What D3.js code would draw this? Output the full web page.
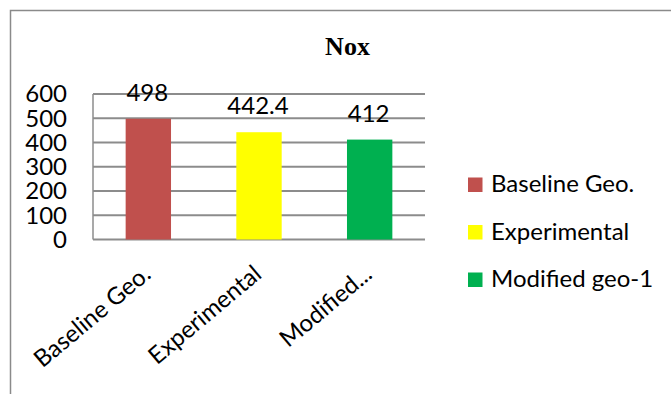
<!DOCTYPE html>
<html><head><meta charset="utf-8">
<script src="https://cdn.jsdelivr.net/npm/d3@7/dist/d3.min.js"></script>
<style>body{margin:0;background:#fff}svg{display:block}</style>
</head><body>
<svg id="chart" width="671" height="394"></svg>
<script>
const title = "Nox";
const categories = ["Baseline Geo.", "Experimental", "Modified geo-1"];
const axisLabels = ["Baseline Geo.", "Experimental", "Modified..."];
const values = [498, 442.4, 412];
const valueLabels = ["498", "442.4", "412"];
const colors = ["#C0504D", "#FFFF00", "#00B050"];
const yTicks = [0, 100, 200, 300, 400, 500, 600];

const svg = d3.select("#chart");
const font = "Lato, 'Open Sans', sans-serif";
const fs = 24;
const grid = "#8c8c8c";

// outer chart border (extends beyond viewport right/bottom)
svg.append("rect").attr("x", 10.5).attr("y", 10.5).attr("width", 700).attr("height", 420)
  .attr("fill", "#fff").attr("stroke", "#8a8a8a").attr("stroke-width", 1.5);

const plotL = 93, plotR = 425, plotT = 94, plotB = 239.5;
const x = d3.scaleBand().domain(categories).range([plotL, plotR]).paddingInner(0.59).paddingOuter(0.295);
const y = d3.scaleLinear().domain([0, 600]).range([plotB, plotT]);

// gridlines
svg.append("g").selectAll("line").data(yTicks).join("line")
  .attr("x1", plotL).attr("x2", plotR)
  .attr("y1", d => y(d)).attr("y2", d => y(d))
  .attr("stroke", grid).attr("stroke-width", 2);
// left axis line
svg.append("line").attr("x1", plotL).attr("x2", plotL).attr("y1", plotT).attr("y2", plotB)
  .attr("stroke", grid).attr("stroke-width", 1.5);

// y tick labels
svg.append("g").selectAll("text").data(yTicks).join("text")
  .attr("x", 67).attr("y", d => y(d)).attr("dy", "0.35em")
  .attr("text-anchor", "end").attr("font-family", font).attr("font-size", fs)
  .attr("fill", "#000").text(d => d);

// bars
svg.append("g").selectAll("rect").data(values).join("rect")
  .attr("x", (d, i) => x(categories[i])).attr("width", x.bandwidth())
  .attr("y", d => y(d)).attr("height", d => y(0) - y(d))
  .attr("fill", (d, i) => colors[i]);

// value labels
svg.append("g").selectAll("text").data(values).join("text")
  .attr("x", (d, i) => x(categories[i]) + x.bandwidth() / 2 - 1)
  .attr("y", d => y(d) - 18)
  .attr("text-anchor", "middle").attr("font-family", font).attr("font-size", fs)
  .attr("fill", "#000").text((d, i) => valueLabels[i]);

// x axis labels, rotated
svg.append("g").selectAll("text").data(axisLabels).join("text")
  .attr("transform", (d, i) => `translate(${x(categories[i]) + x.bandwidth() / 2 + 4},${plotB + 37}) rotate(-40)`)
  .attr("text-anchor", "end").attr("font-family", font).attr("font-size", fs)
  .attr("fill", "#000").text(d => d);

// title
svg.append("text").attr("x", 347.5).attr("y", 55).attr("text-anchor", "middle")
  .attr("font-family", "'Liberation Serif', 'Times New Roman', serif").attr("font-weight", "bold")
  .attr("font-size", 26).attr("fill", "#000").text(title);

// legend
const lg = svg.append("g").selectAll("g").data(categories).join("g")
  .attr("transform", (d, i) => `translate(468,${192 + i * 47.5})`);
lg.append("rect").attr("x", 0).attr("y", -14.5).attr("width", 14.5).attr("height", 14.5)
  .attr("fill", (d, i) => colors[i]);
lg.append("text").attr("x", 23).attr("y", 0).attr("font-family", font).attr("font-size", fs)
  .attr("fill", "#000").text(d => d);
</script>
</body></html>
